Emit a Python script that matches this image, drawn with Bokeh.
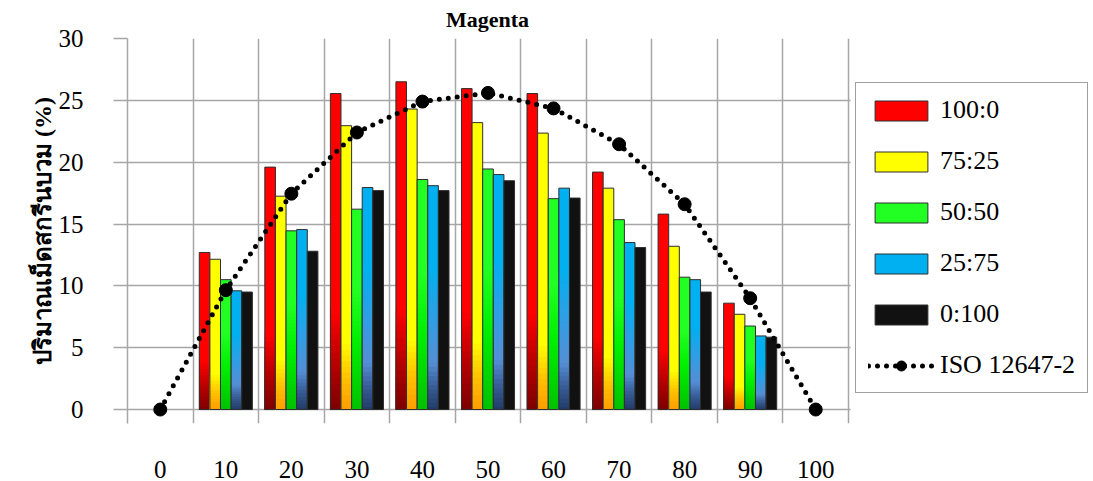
import numpy as np
from bokeh.plotting import figure
from bokeh.models import ColumnDataSource, Range1d, FixedTicker, Legend, LegendItem, BoxAnnotation
from bokeh.embed import file_html
from bokeh.resources import INLINE

# ---------------- data ----------------
tints = [0, 10, 20, 30, 40, 50, 60, 70, 80, 90, 100]
tick_labels = ["0", "10", "20", "30", "40", "50", "60", "70", "80", "90", "100"]
bar_tints = [10, 20, 30, 40, 50, 60, 70, 80, 90]
series_names = ["100:0", "75:25", "50:50", "25:75", "0:100"]
s100_0 = [12.7, 19.6, 25.55, 26.5, 25.95, 25.55, 19.2, 15.8, 8.6]
s75_25 = [12.15, 17.25, 22.95, 24.3, 23.2, 22.35, 17.9, 13.2, 7.7]
s50_50 = [10.5, 14.45, 16.2, 18.6, 19.45, 17.05, 15.35, 10.7, 6.75]
s25_75 = [9.6, 14.55, 17.95, 18.1, 19.0, 17.9, 13.5, 10.5, 5.95]
s0_100 = [9.5, 12.8, 17.7, 17.7, 18.5, 17.1, 13.1, 9.5, 5.85]
iso_12647_2 = [0, 9.65, 17.45, 22.4, 24.9, 25.6, 24.35, 21.45, 16.6, 9.0, 0]
y_ticks = [0, 5, 10, 15, 20, 25, 30]

series_values = [s100_0, s75_25, s50_50, s25_75, s0_100]

# gradient stops (fraction of bar height from bottom, colour)
gradients = [
    [(0.0, "#780000"), (0.12, "#a80000"), (0.32, "#ff0000"), (1.0, "#ff0000")],
    [(0.0, "#ff9900"), (0.12, "#ffc000"), (0.25, "#ffff00"), (1.0, "#ffff00")],
    [(0.0, "#00c000"), (0.35, "#00f000"), (0.6, "#22ff22"), (1.0, "#22ff22")],
    [(0.0, "#1f3864"), (0.12, "#3a5f9a"), (0.22, "#558ed5"), (0.45, "#2aa0e6"), (0.65, "#00b0f0"), (1.0, "#00b0f0")],
    [(0.0, "#111111"), (1.0, "#111111")],
]


def hex2rgb(h):
    return np.array([int(h[1:3], 16), int(h[3:5], 16), int(h[5:7], 16)], dtype=float)


def color_at(stops, f):
    for (f0, c0), (f1, c1) in zip(stops[:-1], stops[1:]):
        if f0 <= f <= f1:
            t = 0 if f1 == f0 else (f - f0) / (f1 - f0)
            c = hex2rgb(c0) * (1 - t) + hex2rgb(c1) * t
            return "#%02x%02x%02x" % tuple(int(round(v)) for v in c)
    return stops[-1][1]


# ---------------- layout (pixels) ----------------
W, H = 1093, 481
plot_left, plot_right = 127, 848          # chart area in pixels
x_lo, x_hi = -5, 105                      # chart area in data units
ppu = (plot_right - plot_left) / (x_hi - x_lo)
x_end = x_hi + (W - plot_right) / ppu     # frame extends under the legend

p = figure(width=W, height=H, output_backend="svg", toolbar_location=None,
           x_range=Range1d(x_lo, x_end), y_range=Range1d(-1.13, 30),
           min_border_left=plot_left, min_border_right=0, min_border_top=38, min_border_bottom=58)
p.background_fill_color = "white"
p.border_fill_color = "white"
p.outline_line_color = None

p.title.text = "Magenta"
p.title.text_font = "Times New Roman"
p.title.text_font_style = "bold"
p.title.text_font_size = "22px"
p.title.text_color = "black"
p.title.align = "left"
p.title.vertical_align = "top"
p.title.offset = (plot_right - plot_left) / 2 - 42
p.title.standoff = 10

# blank out grid lines to the right of the chart area
p.add_layout(BoxAnnotation(left=x_hi + 0.3, fill_color="white", fill_alpha=1,
                           line_color=None, level="underlay"))

group_w = 8.1
bar_w = group_w / len(series_names)

legend_items = []
for j, (name, vals, stops) in enumerate(zip(series_names, series_values, gradients)):
    lefts = [t - group_w / 2 + j * bar_w for t in bar_tints]
    rights = [l + bar_w for l in lefts]
    max_grad = max(f for f, c in stops if f < 1.0) if len(stops) > 2 else 0.0
    fracs = [1.0] + [f for f in np.arange(max_grad, 0.0, -0.02)] if max_grad > 0 else [1.0]
    L, R, T, B, C = [], [], [], [], []
    for f in fracs:
        col = color_at(stops, f)
        for l, r, v in zip(lefts, rights, vals):
            L.append(l); R.append(r); T.append(v * f); B.append(0); C.append(col)
    src = ColumnDataSource(dict(left=L, right=R, top=T, bottom=B, color=C))
    fill_r = p.quad(left="left", right="right", top="top", bottom="bottom", source=src,
                    fill_color="color", line_color=None)
    osrc = ColumnDataSource(dict(left=lefts, right=rights, top=vals, bottom=[0] * len(vals)))
    out_r = p.quad(left="left", right="right", top="top", bottom="bottom", source=osrc,
                   fill_color=None, line_color="#2e2e2e", line_width=1)
    legend_items.append(LegendItem(label=name, renderers=[fill_r, out_r], index=0))

iso_line = p.line(tints, iso_12647_2, line_color="black", line_width=5, line_dash="0 9", line_cap="round")
iso_pts = p.scatter(tints, iso_12647_2, size=13, marker="circle", fill_color="black", line_color="black")
legend_items.append(LegendItem(label="ISO 12647-2", renderers=[iso_line, iso_pts]))

legend = Legend(items=legend_items, location=(855 - plot_left, 30))
legend.label_text_font = "Times New Roman"
legend.label_text_font_size = "26px"
legend.label_text_color = "black"
legend.glyph_width = 66
legend.glyph_height = 25
legend.label_standoff = 6
legend.spacing = 21
legend.padding = 12
legend.margin = 0
legend.border_line_color = "#404040"
legend.border_line_width = 1.5
legend.background_fill_color = "white"
legend.background_fill_alpha = 1
p.add_layout(legend)

# grid
grid_color = "#a6a6a6"
p.xgrid.ticker = FixedTicker(ticks=[t - 5 for t in tints] + [tints[-1] + 5])
p.ygrid.ticker = FixedTicker(ticks=y_ticks)
for g in (p.xgrid, p.ygrid):
    g.grid_line_color = grid_color
    g.grid_line_width = 1.5

# x axis
p.xaxis.ticker = FixedTicker(ticks=tints)
p.xaxis.major_label_overrides = {t: lab for t, lab in zip(tints, tick_labels)}
p.xaxis.axis_line_color = None
p.xaxis.major_tick_line_color = None
p.xaxis.minor_tick_line_color = None
p.xaxis.major_label_standoff = 31
p.xaxis.major_label_text_font = "Times New Roman"
p.xaxis.major_label_text_font_size = "25px"
p.xaxis.major_label_text_color = "black"

# y axis
p.yaxis.ticker = FixedTicker(ticks=y_ticks)
p.yaxis.axis_line_color = grid_color
p.yaxis.axis_line_width = 1.5
p.yaxis.major_tick_line_color = grid_color
p.yaxis.major_tick_line_width = 1.5
p.yaxis.major_tick_out = 14
p.yaxis.major_tick_in = 0
p.yaxis.minor_tick_line_color = None
p.yaxis.major_label_standoff = 30
p.yaxis.major_label_text_font = "Times New Roman"
p.yaxis.major_label_text_font_size = "25px"
p.yaxis.major_label_text_color = "black"
p.yaxis.axis_label = "ปริมาณเม็ดสกรีนบวม (%)"
p.yaxis.axis_label_text_font = "Times New Roman"
p.yaxis.axis_label_text_font_style = "bold"
p.yaxis.axis_label_text_font_size = "24px"
p.yaxis.axis_label_text_color = "black"
p.yaxis.axis_label_standoff = 0

open("out.html", "w").write(file_html(p, INLINE))
